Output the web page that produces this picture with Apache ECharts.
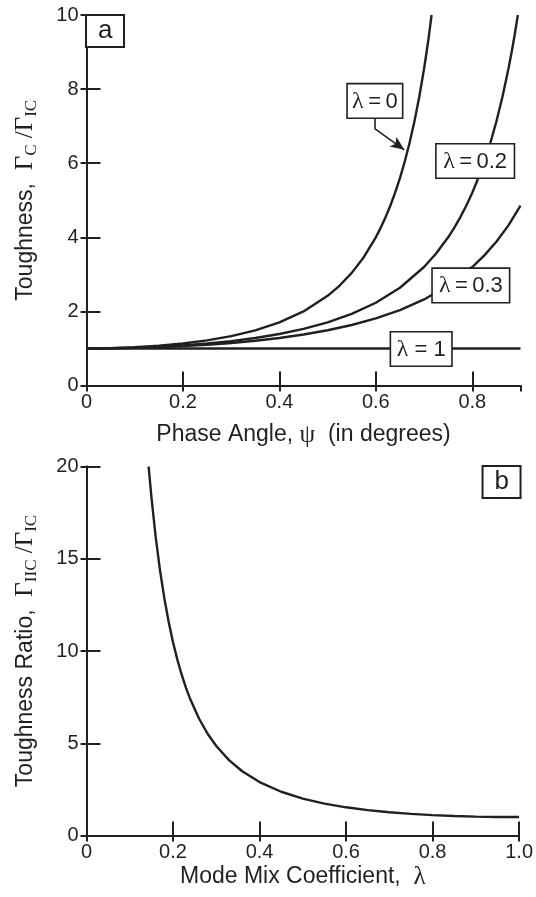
<!DOCTYPE html>
<html>
<head>
<meta charset="utf-8">
<title>Toughness vs phase angle</title>
<script src="https://cdn.jsdelivr.net/npm/echarts/dist/echarts.min.js"></script>
<style>
  html, body { margin: 0; padding: 0; background: #fff; }
  #main { width: 536px; height: 897px; }
</style>
</head>
<body>
<div id="main"></div>
<script>
// panel a: phase angle vs toughness, one curve per lambda
var psi0 = [0, 0.05, 0.1, 0.15, 0.2, 0.25, 0.3, 0.35, 0.4, 0.45, 0.5, 0.525, 0.55, 0.575, 0.6, 0.61, 0.62, 0.63, 0.64, 0.65, 0.66, 0.67, 0.68, 0.69, 0.70, 0.705, 0.71, 0.7156];
var tough0 = [1, 1.008, 1.031, 1.072, 1.133, 1.217, 1.333, 1.490, 1.704, 2.000, 2.420, 2.698, 3.040, 3.464, 4.000, 4.255, 4.537, 4.852, 5.204, 5.599, 6.045, 6.550, 7.126, 7.786, 8.549, 8.974, 9.434, 10];

var psi2 = [0, 0.05, 0.1, 0.15, 0.2, 0.25, 0.3, 0.35, 0.4, 0.45, 0.5, 0.55, 0.6, 0.65, 0.7, 0.725, 0.75, 0.7625, 0.775, 0.7875, 0.8, 0.8125, 0.825, 0.8375, 0.85, 0.8625, 0.875, 0.88125, 0.8875, 0.8945];
var tough2 = [1, 1.005, 1.020, 1.045, 1.082, 1.133, 1.198, 1.283, 1.391, 1.528, 1.704, 1.933, 2.233, 2.638, 3.198, 3.561, 4.000, 4.255, 4.537, 4.852, 5.204, 5.599, 6.045, 6.550, 7.126, 7.786, 8.549, 8.974, 9.434, 10];

var psi3 = [0, 0.05, 0.1, 0.15, 0.2, 0.25, 0.3, 0.35, 0.4, 0.45, 0.5, 0.55, 0.6, 0.65, 0.7, 0.75, 0.8, 0.825, 0.85, 0.875, 0.9];
var tough3 = [1, 1.004, 1.015, 1.034, 1.062, 1.099, 1.147, 1.208, 1.283, 1.376, 1.490, 1.633, 1.811, 2.036, 2.323, 2.698, 3.198, 3.512, 3.882, 4.322, 4.852];

var psi1 = [0, 0.9];
var tough1 = [1, 1];

// panel b: mode mix coefficient vs toughness ratio
var lambdaB = [0.1436, 0.15, 0.16, 0.17, 0.18, 0.19, 0.2, 0.21, 0.22, 0.23, 0.24, 0.26, 0.28, 0.3, 0.33, 0.36, 0.4, 0.45, 0.5, 0.55, 0.6, 0.65, 0.7, 0.75, 0.8, 0.85, 0.9, 0.95, 1.0];
var ratioB = [20, 18.35, 16.17, 14.36, 12.85, 11.57, 10.47, 9.534, 8.715, 8.004, 7.379, 6.340, 5.516, 4.852, 4.074, 3.483, 2.894, 2.371, 2.0, 1.729, 1.528, 1.376, 1.260, 1.172, 1.106, 1.058, 1.025, 1.006, 1];

// ticks: min, max, step
var xTicksA = [0, 0.9, 0.2];
var yTicksA = [0, 10, 2];
var xTicksB = [0, 1, 0.2];
var yTicksB = [0, 20, 5];

var ink = '#231f20';
var sans = 'Liberation Sans';
var serif = 'Liberation Serif';

function pairs(xs, ys) {
    var out = [];
    for (var i = 0; i < xs.length; i++) out.push([xs[i], ys[i]]);
    return out;
}

function tickFmt(v) {
    return v === 0 ? '0' : v.toFixed(1);
}

var nameRich = {
    g: {fontFamily: serif, fontSize: 25, color: ink, verticalAlign: 'middle'},
    s: {fontFamily: serif, fontSize: 17, color: ink, verticalAlign: 'bottom'},
    l: {fontFamily: serif, fontSize: 25, color: ink}
};

function mainX(grid, t, name, gap) {
    return {
        gridIndex: grid, type: 'value', min: t[0], max: t[1], interval: t[2], position: 'bottom',
        axisLine: {show: true, lineStyle: {color: ink, width: 2}},
        axisTick: {show: true, inside: true, length: 14, lineStyle: {color: ink, width: 2}},
        axisLabel: {show: true, margin: 7, fontFamily: sans, fontSize: 20, color: ink, formatter: tickFmt, showMaxLabel: grid === 1},
        splitLine: {show: false},
        name: name, nameLocation: 'middle', nameGap: gap,
        nameTextStyle: {fontFamily: sans, fontSize: 23, color: ink, rich: nameRich}
    };
}

function mirrorX(grid, t) {
    return {
        gridIndex: grid, type: 'value', min: t[0], max: t[1], interval: t[2], position: 'top',
        axisLine: {show: true, lineStyle: {color: ink, width: 2}},
        axisTick: {show: true, inside: true, length: 6, lineStyle: {color: ink, width: 2}},
        axisLabel: {show: false},
        splitLine: {show: false}
    };
}

function mainY(grid, t, name) {
    return {
        gridIndex: grid, type: 'value', min: t[0], max: t[1], interval: t[2], position: 'left',
        axisLine: {show: true, lineStyle: {color: ink, width: 2}},
        axisTick: {show: true, inside: true, length: 14, lineStyle: {color: ink, width: 2}},
        axisLabel: {show: true, margin: 8, fontFamily: sans, fontSize: 20, color: ink},
        splitLine: {show: false},
        name: name, nameLocation: 'middle', nameRotate: 90, nameGap: 46,
        nameTextStyle: {fontFamily: sans, fontSize: 23, color: ink, lineHeight: 30, rich: nameRich}
    };
}

function mirrorY(grid, t) {
    return {
        gridIndex: grid, type: 'value', min: t[0], max: t[1], interval: t[2], position: 'right',
        axisLine: {show: true, lineStyle: {color: ink, width: 2}},
        axisTick: {show: true, inside: true, length: 6, lineStyle: {color: ink, width: 2}},
        axisLabel: {show: false},
        splitLine: {show: false}
    };
}

function boxLabel(text, coord, w) {
    return {
        symbol: 'rect', symbolSize: 1, itemStyle: {color: 'rgba(0,0,0,0)'},
        label: {
            show: true, position: 'inside', formatter: text, width: w, align: 'center',
            fontFamily: sans, fontSize: 22, color: ink,
            backgroundColor: '#fff', borderColor: ink, borderWidth: 1.6, padding: [5, 3, 4, 3],
            rich: {l: {fontFamily: serif, fontSize: 24, color: ink}}
        },
        data: [{coord: coord}]
    };
}

function curve(xi, yi, xs, ys) {
    return {
        type: 'line', xAxisIndex: xi, yAxisIndex: yi, data: pairs(xs, ys),
        showSymbol: false, smooth: false, clip: true, silent: true,
        lineStyle: {color: ink, width: 2.4}
    };
}

var s0 = curve(0, 0, psi0, tough0);
s0.markPoint = boxLabel('{l|λ}\u2009=\u20090', [0.598, 7.68], 48);
s0.markLine = {
    silent: true, label: {show: false}, lineStyle: {color: ink, width: 1.6, type: 'solid'},
    symbol: ['none', 'none'],
    data: [
        [{coord: [0.597, 7.25]}, {coord: [0.597, 6.94]}],
        [{coord: [0.597, 6.94]}, {coord: [0.659, 6.36], symbol: 'arrow', symbolSize: [9, 14]}]
    ]
};
var s2 = curve(0, 0, psi2, tough2);
s2.markPoint = boxLabel('{l|λ}\u2009=\u20090.2', [0.806, 6.06], 71);
var s3 = curve(0, 0, psi3, tough3);
s3.markPoint = boxLabel('{l|λ}\u2009=\u20090.3', [0.797, 2.70], 70);
var s1 = curve(0, 0, psi1, tough1);
s1.markPoint = boxLabel('{l|λ} = 1', [0.694, 0.985], 54);
var sb = curve(2, 2, lambdaB, ratioB);

var chart = echarts.init(document.getElementById('main'), null, {renderer: 'canvas'});
chart.setOption({
    backgroundColor: '#fff',
    animation: false,
    title: [
        {text: 'a', left: 86, top: 15, padding: [3, 12, 3, 12], borderWidth: 2, borderColor: ink, backgroundColor: '#fff',
            textStyle: {fontFamily: sans, fontSize: 26, fontWeight: 'normal', color: ink}},
        {text: 'b', right: 15, top: 466, padding: [3, 12, 3, 12], borderWidth: 2, borderColor: ink, backgroundColor: '#fff',
            textStyle: {fontFamily: sans, fontSize: 26, fontWeight: 'normal', color: ink}}
    ],
    grid: [
        {left: 86.5, top: 15, width: 434, height: 370.5},
        {left: 86.5, top: 466.5, width: 434, height: 369}
    ],
    xAxis: [
        mainX(0, xTicksA, 'Phase Angle, {l|ψ}  (in degrees)', 37),
        mirrorX(0, xTicksA),
        mainX(1, xTicksB, 'Mode Mix Coefficient,  {l|λ}', 29),
        mirrorX(1, xTicksB)
    ],
    yAxis: [
        mainY(0, yTicksA, 'Toughness,  {g|Γ}{s|C}{g| /Γ}{s|IC}'),
        mirrorY(0, yTicksA),
        mainY(1, yTicksB, 'Toughness Ratio,  {g|Γ}{s|IIC}{g| /Γ}{s|IC}'),
        mirrorY(1, yTicksB)
    ],
    series: [s0, s2, s3, s1, sb]
});
</script>
</body>
</html>
